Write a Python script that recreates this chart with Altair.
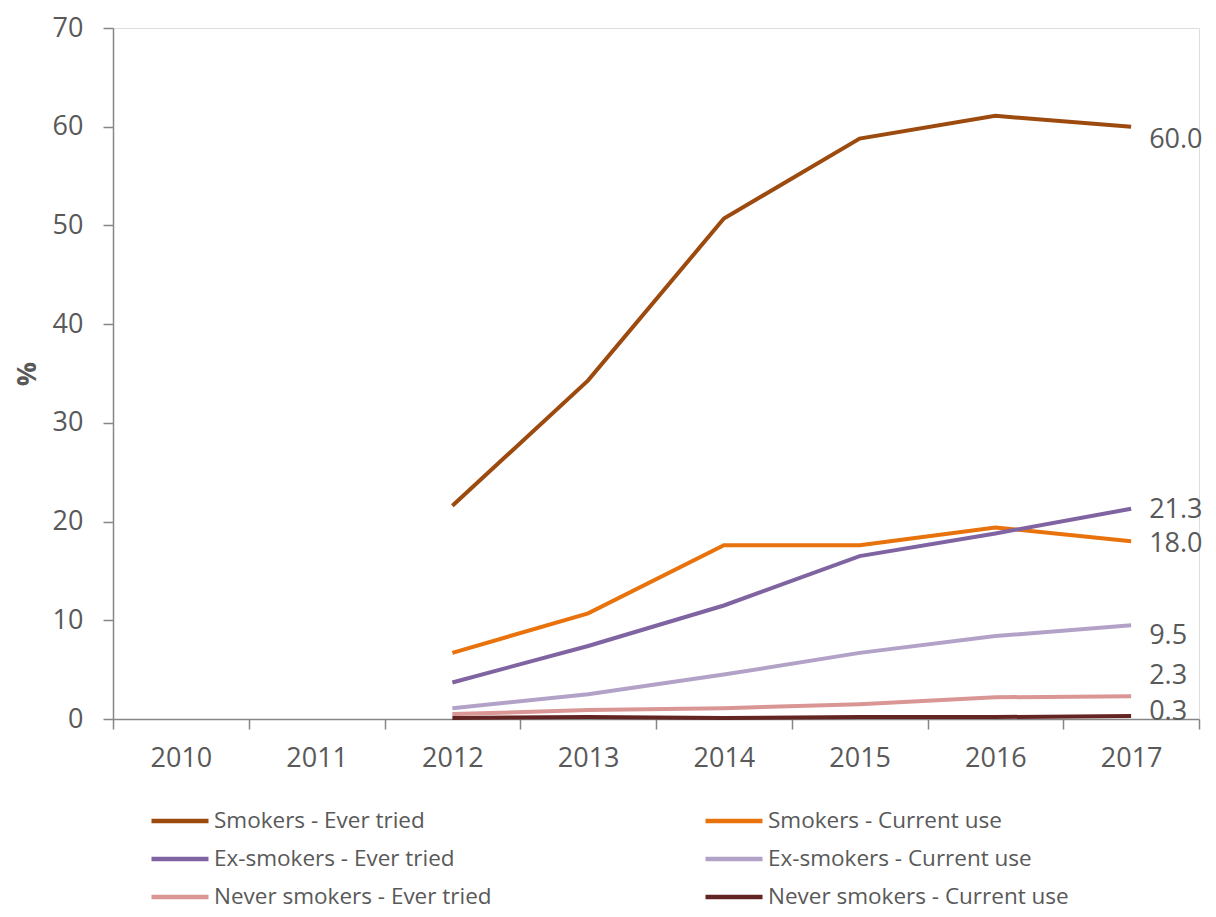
import altair as alt
import pandas as pd

years = ["2010", "2011", "2012", "2013", "2014", "2015", "2016", "2017"]
data_years = ["2012", "2013", "2014", "2015", "2016", "2017"]

series = [
    "Smokers - Ever tried",
    "Smokers - Current use",
    "Ex-smokers - Ever tried",
    "Ex-smokers - Current use",
    "Never smokers - Ever tried",
    "Never smokers - Current use",
]
colors = ["#9C4A0E", "#E8720C", "#8064A2", "#B3A2C7", "#D99694", "#632523"]

smokers_ever = [21.6, 34.3, 50.7, 58.8, 61.1, 60.0]
smokers_current = [6.7, 10.7, 17.6, 17.6, 19.4, 18.0]
ex_ever = [3.7, 7.4, 11.5, 16.5, 18.8, 21.3]
ex_current = [1.1, 2.5, 4.5, 6.7, 8.4, 9.5]
never_ever = [0.5, 0.9, 1.1, 1.5, 2.2, 2.3]
never_current = [0.1, 0.2, 0.1, 0.2, 0.2, 0.3]

values = [smokers_ever, smokers_current, ex_ever, ex_current, never_ever, never_current]
label_dy = [13, 3, 1, 11, -20, -4]

rows = []
for s, vals in zip(series, values):
    for y, v in zip(data_years, vals):
        rows.append({"year": y, "series": s, "value": v})
df = pd.DataFrame(rows)

FONT = "Open Sans"
GREY = "#595959"
AXIS = "#868686"

x_enc = alt.X(
    "year:O",
    scale=alt.Scale(domain=years, type="band", paddingInner=0, paddingOuter=0),
    axis=alt.Axis(
        title=None, labelAngle=0, tickBand="extent", tickSize=10,
        labelPadding=16, labelFontSize=27, labelColor=GREY, labelFont=FONT,
        domainColor=AXIS, tickColor=AXIS, domainWidth=1.5, tickWidth=1.5,
    ),
)
y_enc = alt.Y(
    "value:Q",
    scale=alt.Scale(domain=[0, 70], nice=False),
    axis=alt.Axis(
        title="%", values=list(range(0, 71, 10)), grid=False, tickSize=10,
        labelPadding=20, labelFontSize=27, labelColor=GREY, labelFont=FONT,
        titleFontSize=27, titleFontWeight="bold", titleColor=GREY, titleFont=FONT,
        titlePadding=11, domainColor=AXIS, tickColor=AXIS,
        domainWidth=1.5, tickWidth=1.5,
    ),
)

lines = alt.Chart(df).mark_line(strokeWidth=4).encode(
    x=x_enc,
    y=y_enc,
    color=alt.Color(
        "series:N",
        scale=alt.Scale(domain=series, range=colors),
        legend=alt.Legend(
            title=None, orient="none", legendX=36, legendY=781, columns=2,
            direction="horizontal", clipHeight=24,
            symbolType="stroke", symbolStrokeWidth=4.5, symbolSize=3250,
            labelFontSize=22.5, labelFont=FONT, labelColor=GREY, labelLimit=400,
            columnPadding=211, rowPadding=14, symbolOffset=0, labelOffset=3,
        ),
    ),
)

texts = []
for s, vals, dy in zip(series, values, label_dy):
    d = pd.DataFrame({"year": ["2017"], "value": [vals[-1]], "lab": [f"{vals[-1]:.1f}"]})
    texts.append(
        alt.Chart(d).mark_text(
            align="left", baseline="middle", dx=18, dy=dy,
            fontSize=27, font=FONT, color=GREY,
        ).encode(x=alt.X("year:O", scale=alt.Scale(domain=years)), y="value:Q", text="lab:N")
    )

chart = alt.layer(lines, *texts).properties(
    width=1086, height=691,
    autosize=alt.AutoSizeParams(type="none"),
    padding={"left": 105, "top": 20, "right": 8, "bottom": 190},
).configure_view(stroke=None).configure(font=FONT)

chart.save("out.html", embed_options={"renderer": "svg", "actions": False})
